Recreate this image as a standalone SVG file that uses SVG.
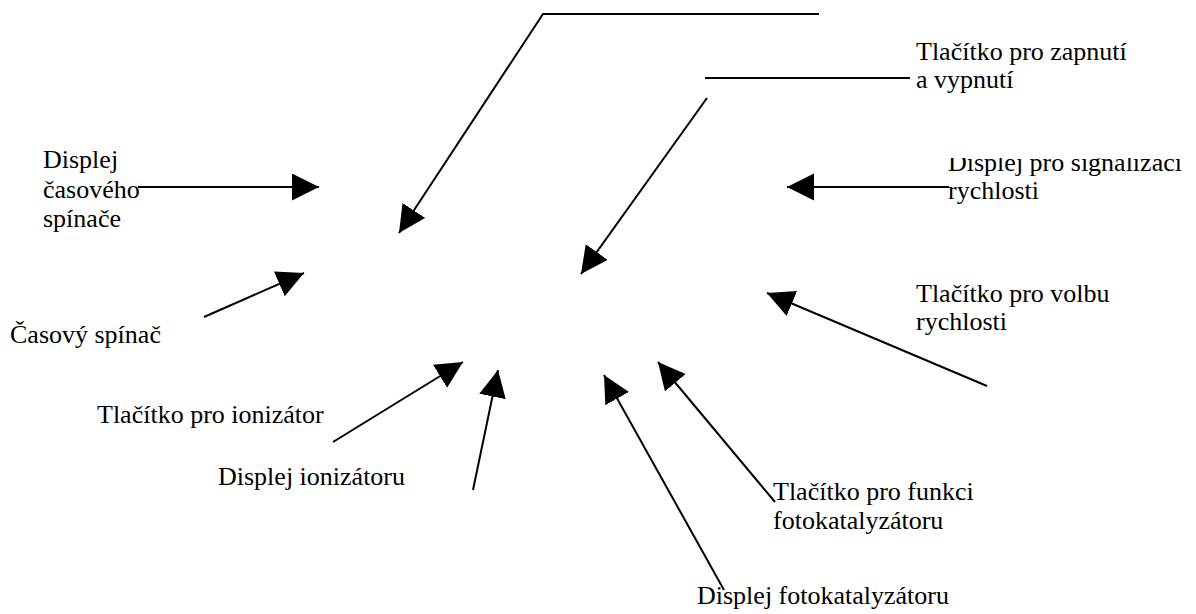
<svg xmlns="http://www.w3.org/2000/svg" width="1196" height="614" viewBox="0 0 1196 614">
<style>
.t{font-family:"Liberation Serif","Times New Roman",serif;font-size:26px;fill:#000}
.c{stroke:#000;stroke-width:2;fill:none}
</style>
<defs>
<marker id="ah" markerUnits="userSpaceOnUse" markerWidth="28" markerHeight="28" refX="27" refY="13.5" orient="auto" viewBox="0 0 28 28">
<path d="M0,0 L27,13.5 L0,27 z" fill="#000"/>
</marker>
<clipPath id="clipSig"><rect x="900" y="158" width="296" height="60"/></clipPath>
</defs>
<rect width="1196" height="614" fill="#fff"/>
<g id="connectors">
<polyline class="c" points="819,14 543,14 399,233" marker-end="url(#ah)"/>
<line class="c" x1="705" y1="78" x2="910" y2="78"/>
<line class="c" x1="707" y1="98" x2="581" y2="274" marker-end="url(#ah)"/>
<line class="c" x1="138" y1="187" x2="319" y2="187" marker-end="url(#ah)"/>
<line class="c" x1="949" y1="187" x2="787" y2="187" marker-end="url(#ah)"/>
<line class="c" x1="204" y1="317" x2="304" y2="273" marker-end="url(#ah)"/>
<line class="c" x1="333" y1="442" x2="463" y2="362" marker-end="url(#ah)"/>
<line class="c" x1="473" y1="490" x2="498" y2="370" marker-end="url(#ah)"/>
<line class="c" x1="724" y1="590" x2="604" y2="375" marker-end="url(#ah)"/>
<line class="c" x1="775" y1="502" x2="658" y2="362" marker-end="url(#ah)"/>
<line class="c" x1="987" y1="386" x2="767" y2="293" marker-end="url(#ah)"/>
</g>
<g id="n-zapnuti"><text class="t" x="916" y="60">Tlačítko pro zapnutí</text><text class="t" x="916" y="88">a vypnutí</text></g>
<g id="n-displej-casoveho"><text class="t" x="43" y="168">Displej</text><text class="t" x="43" y="198">časového</text><text class="t" x="43" y="227">spínače</text></g>
<g id="n-signalizace"><text class="t" x="948" y="171" clip-path="url(#clipSig)">Displej pro signalizaci</text><text class="t" x="948" y="199">rychlosti</text></g>
<g id="n-volba"><text class="t" x="916" y="302">Tlačítko pro volbu</text><text class="t" x="916" y="330">rychlosti</text></g>
<g id="n-casovy"><text class="t" x="10" y="343">Časový spínač</text></g>
<g id="n-ionizator"><text class="t" x="97" y="423">Tlačítko pro ionizátor</text></g>
<g id="n-displej-ion"><text class="t" x="218" y="485">Displej ionizátoru</text></g>
<g id="n-funkce"><text class="t" x="773" y="500">Tlačítko pro funkci</text><text class="t" x="773" y="529">fotokatalyzátoru</text></g>
<g id="n-displej-foto"><text class="t" x="697" y="604">Displej fotokatalyzátoru</text></g>
</svg>
